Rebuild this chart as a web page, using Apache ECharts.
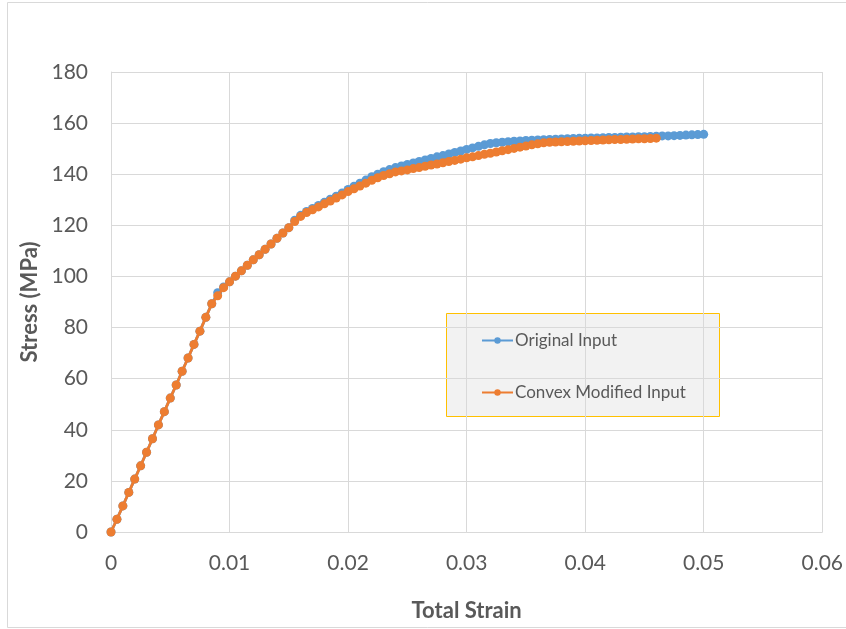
<!DOCTYPE html>
<html>
<head>
<meta charset="utf-8">
<script src="https://cdn.jsdelivr.net/npm/echarts@6/dist/echarts.min.js"></script>
<style>
html,body{margin:0;padding:0;background:#fff;}
#chart{width:846px;height:629px;}
</style>
</head>
<body>
<div id="chart"></div>
<script>
// ---- Data ----
var strainOriginal = [0,0.0005,0.001,0.0015,0.002,0.0025,0.003,0.0035,0.004,0.0045,0.005,0.0055,0.006,0.0065,0.007,0.0075,0.008,0.0085,0.009,0.0095,
0.01,0.0105,0.011,0.0115,0.012,0.0125,0.013,0.0135,0.014,0.0145,0.015,0.0155,0.016,0.0165,0.017,0.0175,0.018,0.0185,0.019,0.0195,
0.02,0.0205,0.021,0.0215,0.022,0.0225,0.023,0.0235,0.024,0.0245,0.025,0.0255,0.026,0.0265,0.027,0.0275,0.028,0.0285,0.029,0.0295,
0.03,0.0305,0.031,0.0315,0.032,0.0325,0.033,0.0335,0.034,0.0345,0.035,0.0355,0.036,0.0365,0.037,0.0375,0.038,0.0385,0.039,0.0395,
0.04,0.0405,0.041,0.0415,0.042,0.0425,0.043,0.0435,0.044,0.0445,0.045,0.0455,0.046,0.0465,0.047,0.0475,0.048,0.0485,0.049,0.0495,0.05];
var stressOriginal = [0,5.0,10.2,15.5,20.7,25.9,31.2,36.5,41.9,47.1,52.4,57.5,62.9,68.1,73.4,78.6,84.0,89.3,93.6,95.9,
97.9,100.1,102.2,104.4,106.5,108.5,110.6,112.7,114.9,117.0,119.1,122.0,123.9,125.4,126.6,127.8,129.0,130.2,131.4,132.7,
134.0,135.3,136.5,137.7,139.0,140.0,141.0,141.8,142.6,143.2,143.8,144.4,145.0,145.6,146.2,146.8,147.3,147.9,148.5,149.1,
149.7,150.3,150.9,151.5,152.0,152.3,152.5,152.7,152.9,153.0,153.2,153.3,153.4,153.5,153.6,153.7,153.8,153.9,154.0,154.05,
154.1,154.2,154.2,154.3,154.4,154.4,154.5,154.6,154.6,154.7,154.7,154.8,154.9,155.0,155.0,155.1,155.2,155.3,155.4,155.5,155.6];

var strainModified = [0,0.0005,0.001,0.0015,0.002,0.0025,0.003,0.0035,0.004,0.0045,0.005,0.0055,0.006,0.0065,0.007,0.0075,0.008,0.0085,0.009,0.0095,
0.01,0.0105,0.011,0.0115,0.012,0.0125,0.013,0.0135,0.014,0.0145,0.015,0.0155,0.016,0.0165,0.017,0.0175,0.018,0.0185,0.019,0.0195,
0.02,0.0205,0.021,0.0215,0.022,0.0225,0.023,0.0235,0.024,0.0245,0.025,0.0255,0.026,0.0265,0.027,0.0275,0.028,0.0285,0.029,0.0295,
0.03,0.0305,0.031,0.0315,0.032,0.0325,0.033,0.0335,0.034,0.0345,0.035,0.0355,0.036,0.0365,0.037,0.0375,0.038,0.0385,0.039,0.0395,
0.04,0.0405,0.041,0.0415,0.042,0.0425,0.043,0.0435,0.044,0.0445,0.045,0.0455,0.046];
var stressModified = [0,5.0,10.2,15.5,20.7,25.9,31.2,36.5,41.9,47.1,52.4,57.5,62.9,68.1,73.4,78.6,84.0,89.3,92.4,95.6,
97.9,100.1,102.2,104.4,106.5,108.5,110.6,112.7,114.9,117.0,119.1,121.5,123.5,125.0,126.1,127.2,128.4,129.5,130.7,131.9,
133.2,134.3,135.4,136.5,137.6,138.6,139.5,140.2,140.9,141.3,141.7,142.2,142.6,143.1,143.6,144.0,144.5,145.0,145.4,145.9,
146.4,146.8,147.3,147.8,148.2,148.7,149.2,149.6,150.1,150.6,151.0,151.5,151.9,152.3,152.5,152.6,152.7,152.8,152.9,153.0,
153.1,153.2,153.3,153.4,153.5,153.6,153.6,153.7,153.8,153.9,153.9,154.0,154.1];

var seriesNames = ['Original Input', 'Convex Modified Input'];
var xAxisTitle = 'Total Strain';
var yAxisTitle = 'Stress (MPa)';

function pairs(xs, ys){ var out=[]; for(var i=0;i<xs.length;i++){ out.push([xs[i], ys[i]]); } return out; }

var FONT = 'Lato';
var chart = echarts.init(document.getElementById('chart'), null, {renderer:'canvas'});
var option = {
  backgroundColor: '#ffffff',
  animation: false,
  grid: {left:111, right:21, top:72, bottom:97, containLabel:false},
  xAxis: {
    type:'value', min:0, max:0.06, interval:0.01,
    name: xAxisTitle, nameLocation:'middle', nameGap:68,
    nameTextStyle:{fontFamily:FONT, fontSize:22, fontWeight:'bold', color:'#595959'},
    axisLine:{show:true, lineStyle:{color:'#D9D9D9', width:1}},
    axisTick:{show:false},
    axisLabel:{fontFamily:FONT, fontSize:21, color:'#595959', margin:21,
      formatter:function(v){ return v===0 ? '0' : v.toFixed(2); }},
    splitLine:{show:true, lineStyle:{color:'#D9D9D9', width:1}}
  },
  yAxis: {
    type:'value', min:0, max:180, interval:20,
    name: yAxisTitle, nameLocation:'middle', nameGap:64,
    nameTextStyle:{fontFamily:FONT, fontSize:22, fontWeight:'bold', color:'#595959'},
    axisLine:{show:true, lineStyle:{color:'#D9D9D9', width:1}},
    axisTick:{show:false},
    axisLabel:{fontFamily:FONT, fontSize:21, color:'#595959', margin:23},
    splitLine:{show:true, lineStyle:{color:'#D9D9D9', width:1}}
  },
  legend: {
    orient:'vertical', left:481, top:332, itemGap:35, padding:0,
    itemWidth:31, itemHeight:8,
    textStyle:{fontFamily:FONT, fontSize:17, color:'#595959', padding:[0,0,0,-3]},
    data: seriesNames
  },
  graphic: [
    {type:'rect', z:-1, shape:{x:7.5, y:2.5, width:845, height:625},
     style:{fill:'none', stroke:'#D9D9D9', lineWidth:1}},
    {type:'rect', z:0, shape:{x:446.5, y:313.5, width:273, height:103},
     style:{fill:'#F2F2F2', stroke:'#FFC000', lineWidth:1}}
  ],
  series: [
    {name:seriesNames[0], type:'line', data:pairs(strainOriginal, stressOriginal),
     symbol:'circle', symbolSize:9, showAllSymbol:true, z:2,
     itemStyle:{color:'#5B9BD5'}, lineStyle:{color:'#5B9BD5', width:2.75}},
    {name:seriesNames[1], type:'line', data:pairs(strainModified, stressModified),
     symbol:'circle', symbolSize:9, showAllSymbol:true, z:3,
     itemStyle:{color:'#ED7D31'}, lineStyle:{color:'#ED7D31', width:2.75}}
  ]
};
chart.setOption(option);
</script>
</body>
</html>
